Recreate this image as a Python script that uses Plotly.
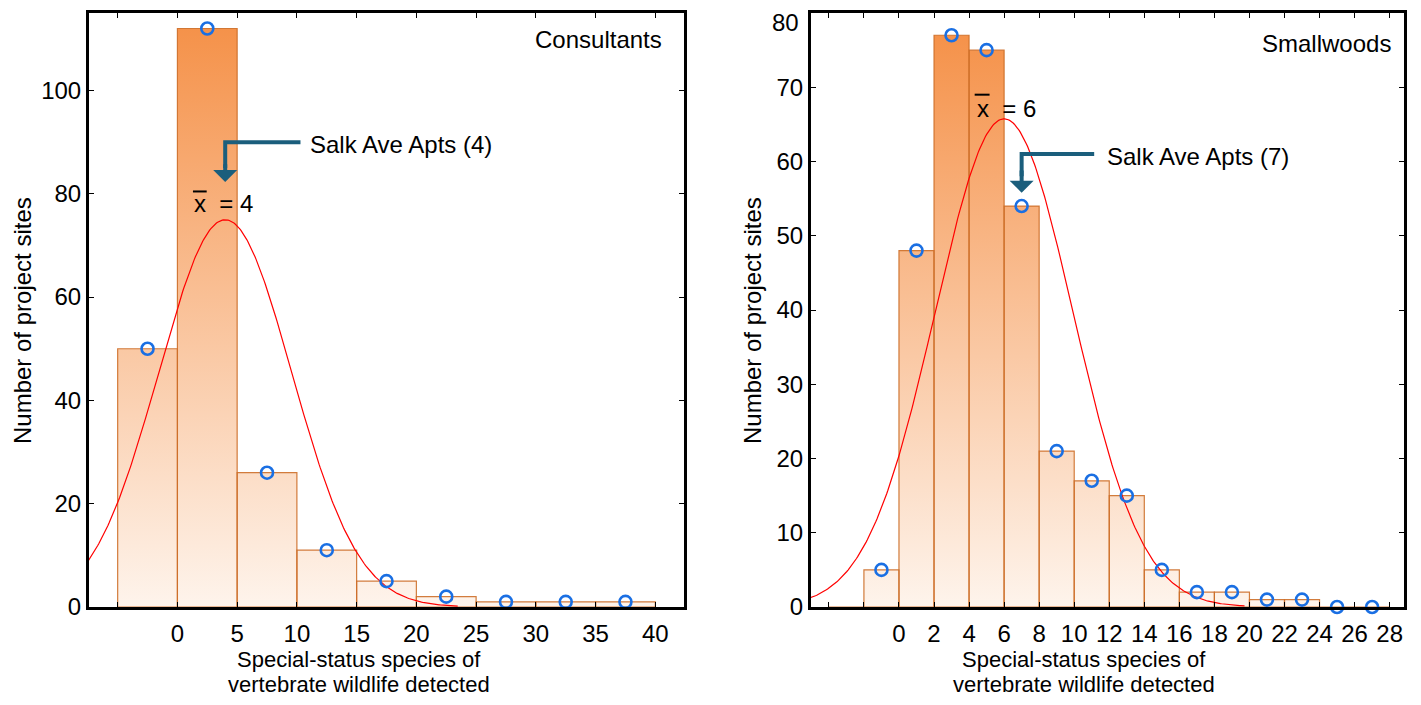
import numpy as np
import plotly.graph_objects as go

# ---------------- data ----------------
# Consultants (bin width 5)
cons_bin_left = [-5, 0, 5, 10, 15, 20, 25, 30, 35]
cons_counts = [50, 112, 26, 11, 5, 2, 1, 1, 1]
cons_width = 5
cons_mean = 4.0
cons_sd = 5.56
cons_xticks = [-5, 0, 5, 10, 15, 20, 25, 30, 35, 40]
cons_xticklabels = ["", "0", "5", "10", "15", "20", "25", "30", "35", "40"]
cons_yticks = [0, 20, 40, 60, 80, 100]

# Smallwoods (bin width 2)
small_bin_left = [-4, -2, 0, 2, 4, 6, 8, 10, 12, 14, 16, 18, 20, 22, 24, 26]
small_counts = [0, 5, 48, 77, 75, 54, 21, 17, 15, 5, 2, 2, 1, 1, 0, 0]
small_width = 2
small_mean = 6.0
small_sd = 3.92
small_xticks = [-4, -2, 0, 2, 4, 6, 8, 10, 12, 14, 16, 18, 20, 22, 24, 26, 28]
small_xticklabels = ["", ""] + [str(v) for v in range(0, 30, 2)]
small_yticks = [0, 10, 20, 30, 40, 50, 60, 70, 80]
small_yticklabels = ["0", "10", "20", "30", "40", "50", "60", "70", ""]
small_top_label = "80"

FONT = "Arial, Liberation Sans, sans-serif"
FS = 24
BAR_LINE = "rgba(205,110,40,0.9)"
PALE = "#FEF4EC"
DARK = "#F5924A"
CIRCLE = "#1A6FE3"
ARROW = "#1B5E7C"

# page has an 8px body margin: size the figure so page == window
OFF = 8
W, H = 1421 - 2 * OFF, 705 - 2 * OFF


def px(xp):
    return (xp - OFF) / W


def py(yp):
    return 1 - (yp - OFF) / H


fig = go.Figure()


def add_hist(bin_left, counts, width, mean, sd, xa, ya, show_circles):
    xs, ys = [], []
    for b, c in zip(bin_left, counts):
        xs += [b, b, b + width, b + width, b, None]
        ys += [0, c, c, 0, 0, None]
    fig.add_trace(go.Scatter(
        x=xs, y=ys, mode="lines", fill="toself",
        line=dict(color=BAR_LINE, width=1.2),
        fillgradient=dict(type="vertical", colorscale=[[0, PALE], [1, DARK]],
                          start=0, stop=max(counts)),
        xaxis=xa, yaxis=ya, showlegend=False, hoverinfo="skip"))
    # fitted normal curve, drawn over mean +/- 3.5 sd
    n = sum(counts)
    xc = np.linspace(mean - 3.5 * sd, mean + 3.5 * sd, 400)
    yc = n * width / (sd * np.sqrt(2 * np.pi)) * np.exp(-0.5 * ((xc - mean) / sd) ** 2)
    fig.add_trace(go.Scatter(x=xc, y=yc, mode="lines", line=dict(color="#FF0000", width=1.2),
                             xaxis=xa, yaxis=ya, showlegend=False, hoverinfo="skip"))
    cx = [b + width / 2 for b, c in zip(bin_left, counts) if show_circles(b)]
    cy = [c for b, c in zip(bin_left, counts) if show_circles(b)]
    fig.add_trace(go.Scatter(x=cx, y=cy, mode="markers",
                             marker=dict(symbol="circle-open", size=12, color=CIRCLE,
                                         line=dict(width=2.6, color=CIRCLE)),
                             cliponaxis=False,
                             xaxis=xa, yaxis=ya, showlegend=False, hoverinfo="skip"))


cons_xr = [-7.4, 42.4]
small_xr = [-5.02, 28.82]
add_hist(cons_bin_left, cons_counts, cons_width, cons_mean, cons_sd, "x", "y",
         lambda b: True)
add_hist(small_bin_left, small_counts, small_width, small_mean, small_sd, "x2", "y2",
         lambda b: b >= -2)

# elbow leader lines for the arrows
fig.add_trace(go.Scatter(x=[10.3, 4, 4], y=[90, 90, 85], mode="lines",
                         line=dict(color=ARROW, width=4), xaxis="x", yaxis="y",
                         showlegend=False, hoverinfo="skip"))
fig.add_trace(go.Scatter(x=[11.14, 7, 7], y=[61, 61, 58], mode="lines",
                         line=dict(color=ARROW, width=4), xaxis="x2", yaxis="y2",
                         showlegend=False, hoverinfo="skip"))

L_dom = [px(89), px(684)]
R_dom = [px(811), px(1404)]
Y_dom = [py(607), py(13)]

axis_common = dict(showline=True, linewidth=3, linecolor="black", mirror="ticks",
                   ticks="inside", ticklen=5, tickwidth=1, tickcolor="black",
                   showgrid=False, zeroline=False, automargin=False,
                   ticklabeloverflow="allow",
                   tickfont=dict(family=FONT, size=FS, color="black"))

fig.update_layout(
    width=W, height=H, margin=dict(l=0, r=0, t=0, b=0, autoexpand=False),
    plot_bgcolor="white", paper_bgcolor="white",
    xaxis=dict(domain=L_dom, range=cons_xr, anchor="y", tickmode="array",
               tickvals=cons_xticks, ticktext=cons_xticklabels, ticklabelstandoff=3,
               **axis_common),
    yaxis=dict(domain=Y_dom, range=[0, 115], anchor="x", tickmode="array",
               tickvals=cons_yticks, **axis_common),
    xaxis2=dict(domain=R_dom, range=small_xr, anchor="y2", tickmode="array",
                tickvals=small_xticks, ticktext=small_xticklabels, ticklabelstandoff=3,
                **axis_common),
    yaxis2=dict(domain=Y_dom, range=[0, 80], anchor="x2", tickmode="array",
                tickvals=small_yticks, ticktext=small_yticklabels, **axis_common),
)

# bars over the "x" of the mean labels
fig.add_shape(type="line", xref="x", yref="y", x0=1.3, x1=2.45, y0=80.45, y1=80.45,
              line=dict(color="black", width=2))
fig.add_shape(type="line", xref="x2", yref="y2", x0=4.32, x1=5.17, y0=69.0, y1=69.0,
              line=dict(color="black", width=2))

ann = []
txt = dict(family=FONT, size=FS, color="black")
title_txt = dict(family=FONT, size=22, color="black")
# top tick label of the right panel, kept inside the page
ann.append(dict(x=px(800), y=1, xref="paper", yref="paper", text=small_top_label,
                showarrow=False, borderpad=0, xanchor="right", yanchor="top", font=txt))
# panel labels
ann.append(dict(x=40.75, y=109.8, xref="x", yref="y", text="Consultants", showarrow=False,
                xanchor="right", yanchor="middle", font=txt))
ann.append(dict(x=28.19, y=75.9, xref="x2", yref="y2", text="Smallwoods", showarrow=False,
                xanchor="right", yanchor="middle", font=txt))
# Salk Ave labels
ann.append(dict(x=10.9, y=89.6, xref="x", yref="y", text="Salk Ave Apts (4)", showarrow=False,
                xanchor="left", yanchor="middle", font=txt))
ann.append(dict(x=11.75, y=60.7, xref="x2", yref="y2", text="Salk Ave Apts (7)", showarrow=False,
                xanchor="left", yanchor="middle", font=txt))
# arrow heads
ann.append(dict(x=4, y=82.3, ax=4, ay=86, xref="x", yref="y", axref="x", ayref="y",
                text="", showarrow=True, arrowhead=1, arrowsize=1.0, arrowwidth=4,
                arrowcolor=ARROW, standoff=0))
ann.append(dict(x=7, y=55.8, ax=7, ay=59, xref="x2", yref="y2", axref="x2", ayref="y2",
                text="", showarrow=True, arrowhead=1, arrowsize=1.0, arrowwidth=4,
                arrowcolor=ARROW, standoff=0))
# mean labels
ann.append(dict(x=1.26, y=78.2, xref="x", yref="y", text="x  = 4", showarrow=False,
                xanchor="left", yanchor="middle", font=txt))
ann.append(dict(x=4.36, y=67.2, xref="x2", yref="y2", text="x  = 6", showarrow=False,
                xanchor="left", yanchor="middle", font=txt))
# axis titles
for cx in (359, 1084):
    ann.append(dict(x=px(cx), y=py(659), xref="paper", yref="paper",
                    text="Special-status species of", showarrow=False, borderpad=0,
                    xanchor="center", yanchor="middle", font=title_txt))
    ann.append(dict(x=px(cx), y=py(684), xref="paper", yref="paper",
                    text="vertebrate wildlife detected", showarrow=False, borderpad=0,
                    xanchor="center", yanchor="middle", font=title_txt))
for cx in (22, 752):
    ann.append(dict(x=px(cx), y=py(321), xref="paper", yref="paper",
                    text="Number of project sites", showarrow=False, textangle=-90,
                    xanchor="center", yanchor="middle", font=txt))
fig.update_layout(annotations=ann)

fig.write_html("out.html")
